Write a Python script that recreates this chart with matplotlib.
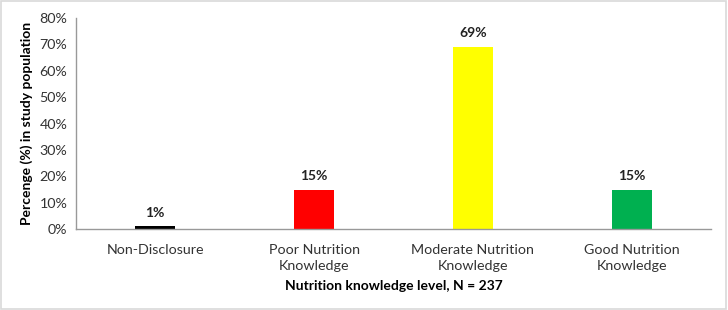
import matplotlib.pyplot as plt
from matplotlib.patches import Rectangle

categories = ["Non-Disclosure", "Poor Nutrition\nKnowledge",
              "Moderate Nutrition\nKnowledge", "Good Nutrition\nKnowledge"]
values = [1, 15, 69, 15]
colors = ["#000000", "#ff0000", "#ffff00", "#00b050"]

plt.rcParams['font.family'] = ['Lato', 'DejaVu Sans']

fig = plt.figure(figsize=(7.28, 3.10), dpi=100)
ax = fig.add_axes([0.104, 0.261, 0.873, 0.681])

x = range(len(categories))
bars = ax.bar(x, values, width=0.25, color=colors)
for b, v in zip(bars, values):
    ax.text(b.get_x() + b.get_width() / 2, v + 3.0, f"{v}%", ha='center', va='bottom',
            fontsize=10, fontweight='bold', color='#222222')

ax.set_xlim(-0.5, 3.5)
ax.set_ylim(0, 80)
ax.set_yticks(range(0, 81, 10))
ax.set_yticklabels([f"{t}%" for t in range(0, 81, 10)])
ax.set_xticks(list(x))
ax.set_xticklabels(categories, linespacing=1.35)
ax.tick_params(length=0, labelsize=10.3, colors='#333333', pad=6)
ax.tick_params(axis='x', pad=11)

for s in ['top', 'right']:
    ax.spines[s].set_visible(False)
for s in ['left', 'bottom']:
    ax.spines[s].set_color('#999999')
    ax.spines[s].set_linewidth(1)

ax.set_ylabel("Percenge (%) in study population", fontsize=10, fontweight='bold', labelpad=5)
ax.set_xlabel("Nutrition knowledge level, N = 237", fontsize=10, fontweight='bold', labelpad=6)

fig.patches.append(Rectangle((0.002, 0.003), 0.995, 0.994, transform=fig.transFigure,
                             fill=False, edgecolor='#d9d9d9', linewidth=1.2))

fig.savefig("out.png", dpi=100)
